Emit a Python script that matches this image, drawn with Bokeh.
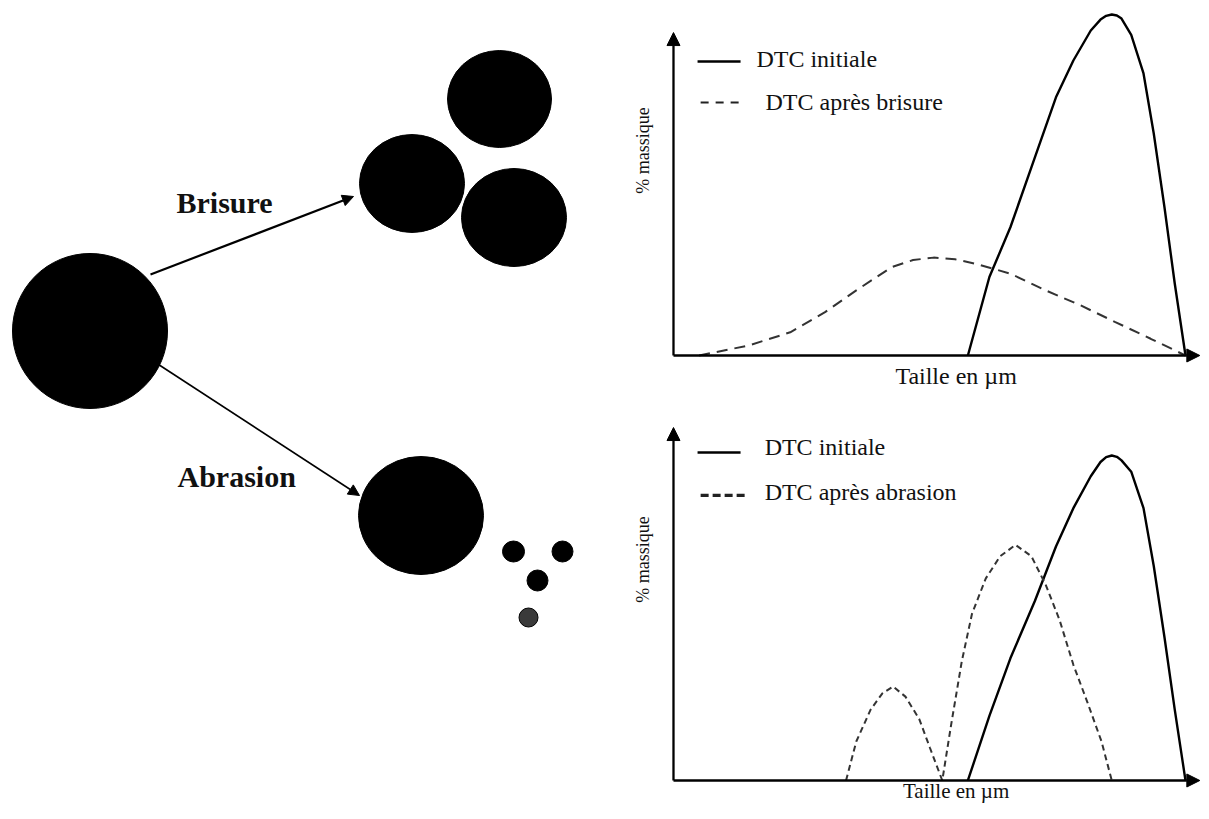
import math
from bokeh.plotting import figure
from bokeh.models import Range1d, Arrow, NormalHead
from bokeh.layouts import row, column
from bokeh.core.properties import value
from bokeh.embed import file_html
from bokeh.resources import INLINE

SERIF = "Liberation Serif"

# ---------------- schematic (left) ----------------
# particles: centre x, centre y (pixels, y downwards), width, height, colour
particle_x = [89.5, 499, 411.5, 513.5, 420.5, 513, 562, 537, 528]
particle_y = [330.5, 98.5, 183, 217, 515, 551, 551, 580, 617]
particle_w = [155, 104, 105, 105, 125, 22, 21, 21, 19]
particle_h = [155, 97, 98, 98, 118, 21, 21, 21, 19]
particle_c = ["black"] * 8 + ["#3a3a3a"]

process_labels = ["Brisure", "Abrasion"]
process_label_x = [176, 177]
process_label_y = [202, 476]
process_arrow_start = [(150, 274), (158, 364)]
process_arrow_end = [(353, 196), (359, 495)]
process_arrow_width = [2.2, 1.6]

# ---------------- distributions (right) ----------------
# size axis (arbitrary units) and % mass (peak = 100)
init_size = [57.5, 61.7, 65.8, 70.6, 74.7, 78.1, 81.5, 83.4, 84.5, 85.6, 86.6, 87.5, 89.4,
             91.8, 93.8, 95.9, 97.9, 100.0]
init_top_mass = [0, 23.0, 37.6, 58.2, 75.7, 86.5, 95.3, 98.5, 99.6, 100, 99.7, 98.8, 94.0,
                 82.7, 65.1, 43.4, 21.1, 0]
init_bot_mass = [0, 19.9, 37.6, 55.3, 72.0, 83.8, 93.6, 98.0, 99.5, 100, 99.6, 98.5, 95.0,
                 83.8, 66.0, 44.0, 21.8, 0]

brisure_size = [5.0, 14.6, 22.8, 29.6, 35.7, 42.6, 46.8, 50.8, 55.0, 59.0, 65.8, 72.7,
                79.5, 86.3, 93.2, 100.0]
brisure_mass = [0, 2.9, 6.8, 12.7, 19.1, 25.9, 28.0, 28.7, 28.2, 26.9, 24.0, 19.1,
                14.7, 9.8, 4.9, 0]

abrasion_size = [33.7, 35.7, 38.5, 40.8, 42.9, 45.3, 48.0, 50.1, 52.5,
                 54.2, 56.3, 58.3, 61.0, 63.8, 66.8, 69.9, 72.7, 75.4, 78.1,
                 80.9, 83.6, 85.6]
abrasion_mass = [0, 12.0, 21.8, 26.8, 28.9, 25.8, 18.9, 10.0, 0,
                 16.9, 36.6, 51.3, 62.2, 69.0, 72.5, 69.0, 60.2, 49.4, 35.6,
                 23.8, 12.0, 0]

legend_initial = "DTC initiale"
legend_brisure = "DTC après brisure"
legend_abrasion = "DTC après abrasion"
x_title = "Taille en µm"
y_title = "% massique"


def blank(w, h, xr, yr):
    p = figure(width=w, height=h, x_range=xr, y_range=yr, output_backend="svg",
               toolbar_location=None, x_axis_location=None, y_axis_location=None,
               min_border=0, outline_line_color=None, background_fill_color="white",
               border_fill_color="white")
    p.grid.visible = False
    return p


# left figure: data units equal picture pixels
left = blank(620, 803, Range1d(0, 620), Range1d(803, 0))
left.ellipse(x=particle_x, y=particle_y, width=particle_w, height=particle_h,
             fill_color=particle_c, line_color="black", line_width=1)
for (xs, ys), (xe, ye), lw in zip(process_arrow_start, process_arrow_end, process_arrow_width):
    left.add_layout(Arrow(end=NormalHead(size=11, fill_color="black", line_color="black"),
                          x_start=xs, y_start=ys, x_end=xe, y_end=ye,
                          line_width=lw, line_color="black"))
left.text(x=process_label_x, y=process_label_y, text=process_labels,
          text_font=value(SERIF), text_font_style="bold", text_font_size="30px",
          text_align="left", text_baseline="middle", text_color="#111")


def chart(height, yr, init_mass, dist_size, dist_mass, dist_dash, dist_width,
          y_tip, legend_dist, leg_y, leg_dash, leg_dash_width, leg_dash_end,
          leg_text_y, leg_text_x, ytitle_y, xtitle_y, xtitle_size):
    p = blank(581, height, Range1d(-10.35, 103.125), yr)
    # axes as arrows
    p.add_layout(Arrow(end=NormalHead(size=13, fill_color="black", line_color="black"),
                       x_start=0, y_start=0, x_end=0, y_end=y_tip,
                       line_width=2.3, line_color="black"))
    p.add_layout(Arrow(end=NormalHead(size=13, fill_color="black", line_color="black"),
                       x_start=0, y_start=0, x_end=102.8, y_end=0,
                       line_width=2.3, line_color="black"))
    # curves
    p.line(init_size, init_mass, line_color="black", line_width=2.4, line_join="round")
    p.line(dist_size, dist_mass, line_color="#333", line_width=dist_width,
           line_dash=dist_dash)
    # legend
    p.line([4.7, 13.1], [leg_y[0], leg_y[0]], line_color="black", line_width=2.4)
    p.line([5.3, leg_dash_end], [leg_y[1], leg_y[1]],
           line_color="#222", line_width=leg_dash_width, line_dash=leg_dash)
    p.text(x=leg_text_x, y=leg_text_y, text=[legend_initial, legend_dist],
           text_font=value(SERIF), text_font_size="24px", text_align="left",
           text_baseline="middle", text_color="#111")
    # axis titles
    p.text(x=[-5.9], y=[ytitle_y], text=[y_title], angle=math.pi / 2,
           text_font=value(SERIF), text_font_size="18px", text_align="center",
           text_baseline="middle", text_color="#111")
    p.text(x=[55.2], y=[xtitle_y], text=[x_title],
           text_font=value(SERIF), text_font_size=xtitle_size, text_align="center",
           text_baseline="middle", text_color="#111")
    return p


top = chart(400, Range1d(-13.2, 104.1), init_top_mass, brisure_size, brisure_mass,
            "11 7", 2, 94.7, legend_brisure, [86.2, 74.2], "8 7", 2, 13.3,
            [86.8, 74.3], [16.2, 17.97], 60.1, -6.16, "24px")
bottom = chart(403, Range1d(-7.08, 116.92), init_bot_mass, abrasion_size, abrasion_mass,
               "6 4", 2, 108.6, legend_abrasion, [100.9, 87.7], "8 4", 3.2, 14.1,
               [102.6, 88.8], [17.8, 17.8], 68.0, -3.38, "21px")

layout = row(left, column(top, bottom))
open("out.html", "w").write(file_html(layout, INLINE))
